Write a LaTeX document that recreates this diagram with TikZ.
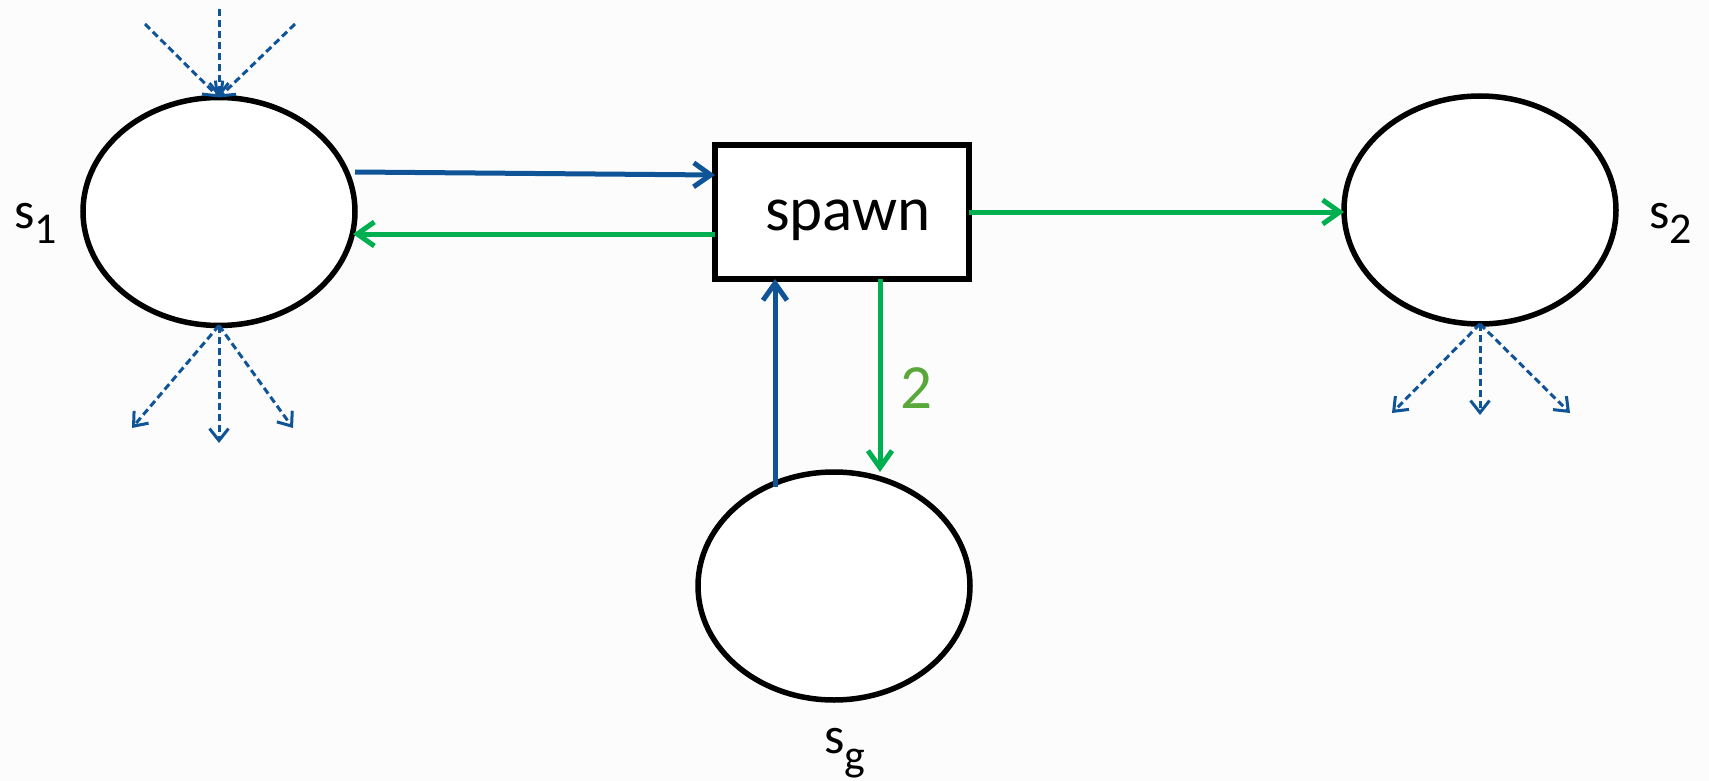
\documentclass[tikz,border=0pt]{standalone}
\usepackage{fontspec}
\setmainfont{Carlito}
\usetikzlibrary{shapes.geometric,arrows.meta,calc}
\definecolor{arrblue}{HTML}{0F5497}
\definecolor{arrgreen}{HTML}{00B050}
\definecolor{lblgreen}{HTML}{58A83A}
\definecolor{bgcol}{HTML}{FCFCFC}
\tikzset{
  state/.style={ellipse, draw=black, line width=5.5pt, fill=white, inner sep=0pt, outer sep=0pt,
    minimum width=272pt, minimum height=228pt},
  spawnbox/.style={rectangle, draw=black, line width=6pt, fill=white, inner sep=0pt, outer sep=0pt,
    minimum width=254pt, minimum height=134pt},
  solidarrow/.style={line width=5pt, -{Straight Barb[length=17pt,width=24pt,line width=5pt]}},
  bluearrow/.style={solidarrow, draw=arrblue},
  greenarrow/.style={solidarrow, draw=arrgreen},
  dasharrow/.style={draw=arrblue, line width=3pt, dash pattern=on 7pt off 4pt,
    -{Straight Barb[length=12pt,width=19pt,line width=3pt]}},
  slabel/.style={inner sep=0pt, anchor=base west}
}
\newcommand{\slab}[2]{\fontsize{52}{60}\selectfont s\raisebox{#2}{\fontsize{44}{52}\selectfont #1}}
\begin{document}
\begin{tikzpicture}[x=1pt,y=-1pt]
\fill[bgcol] (0,0) rectangle (1709,781);
\useasboundingbox (0,0) rectangle (1709,781);

\node[state] (s1) at (219,211.5) {};
\node[state] (s2) at (1480,210) {};
\node[state] (sg) at (834,586) {};
\node[spawnbox] (spawn) at (842,212) {};
\node[inner sep=0pt, anchor=base, font=\fontsize{63}{70}\selectfont] (spawntext) at (848,230) {spawn};

% labels
\node[slabel] (l1) at (14,228) {\slab{1}{-16pt}};
\node[slabel] (l2) at (1649,228) {\slab{2}{-16pt}};
\node[slabel] (lg) at (824,753) {\slab{g}{-17pt}};
\node[slabel, text=lblgreen, font=\fontsize{63}{70}\selectfont] (two) at (900,408) {2};

% solid connectors
\draw[bluearrow] ($(s1.east)+(0,-39.5)$) -- ($(spawn.west)+(0,-37)$);
\draw[greenarrow] ($(spawn.west)+(0,22)$) -- ($(s1.east)+(-2,22.5)$);
\draw[greenarrow] (spawn.east) -- (s2.west |- spawn.east);
\draw[bluearrow] ($(sg.center)+(-59,-99)$) -- ($(spawn.south)+(-67,0)$);
\draw[greenarrow] ($(spawn.south)+(38,0)$) -- ($(sg.center)+(46,-114)$);

% dashed arrows
\coordinate (i1) at (145,24);
\coordinate (i2) at (219,9);
\coordinate (i3) at (295,24);
\coordinate (o1) at (132,428);
\coordinate (o2) at (219,443);
\coordinate (o3) at (293,428);
\coordinate (p1) at (1392,413);
\coordinate (p2) at (1480,415);
\coordinate (p3) at (1570,413);
\foreach \c in {i1,i2,i3} \draw[dasharrow] (\c) -- (s1.north);
\foreach \c in {o1,o2,o3} \draw[dasharrow] (s1.south) -- (\c);
\foreach \c in {p1,p2,p3} \draw[dasharrow] (s2.south) -- (\c);
\end{tikzpicture}
\end{document}
